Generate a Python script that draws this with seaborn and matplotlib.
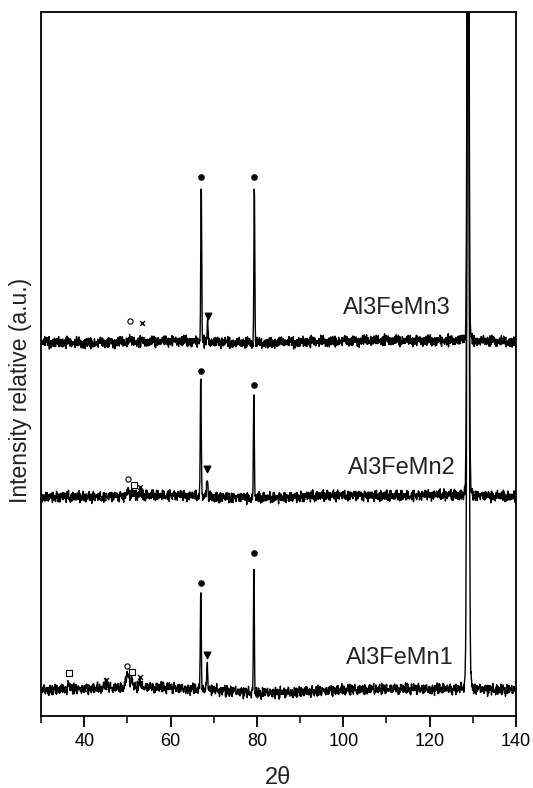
import numpy as np
import pandas as pd
import matplotlib
matplotlib.use("Agg")
import matplotlib.pyplot as plt
import seaborn as sns

# ---------------- data ----------------
samples = ["Al3FeMn1", "Al3FeMn2", "Al3FeMn3"]
baselines = [26, 219, 374]          # baseline level of each pattern (a.u.)

# reflections: position (2theta), height above baseline, width (sigma)
peaks_1_pos = [36.5, 45.0, 50.0, 51.0, 53.0, 67.0, 68.5, 79.3, 128.9, 128.9]
peaks_1_h   = [5,    4,    12,   8,    6,    100,  27,   130,  900,   14]
peaks_1_w   = [0.25, 0.25, 0.35, 0.25, 0.25, 0.11, 0.12, 0.10, 0.22,  0.55]

peaks_2_pos = [50.2, 51.5, 53.0, 67.0, 68.5, 79.3, 128.9, 128.9]
peaks_2_h   = [5,    4,    3,    119,  21,   104,  900,   12]
peaks_2_w   = [0.25, 0.25, 0.25, 0.11, 0.12, 0.10, 0.20,  0.5]

peaks_3_pos = [50.5, 67.1, 68.6, 79.4, 128.9, 128.9]
peaks_3_h   = [3,    157,  18,   159,  900,   10]
peaks_3_w   = [0.25, 0.11, 0.12, 0.10, 0.18,  0.45]

# background drift (slow), knots in 2theta and level offset
drift_x = [30, 40, 50, 60, 70, 80, 90, 100, 110, 120, 128, 140]
drift_1 = [0, 1, 3, 2, 0, -3, -2, 0, 1, 1, 1, 0]
drift_2 = [0, 0, 1, 2, 0, -1, 0, 2, 1, 2, 2, 0]
drift_3 = [0, -1, 0, 1, 0, -1, 0, 1, 2, 1, 2, 0]

# typed detector-noise patterns (a.u.)
noise_pattern_a = [1.5, -2.2, 3.1, -0.8, 0.4, -3.4, 2.6, -1.1, 0.9, 3.6,
                   -2.9, 0.2, -1.7, 2.1, -3.8, 1.2, -0.3, 2.9, -2.4, 0.7,
                   -1.3, 3.3, -0.6, -2.7, 1.8, 0.1, -3.1, 2.4, -0.9, 1.4,
                   -2.0, 3.8, -1.5, 0.5, -2.6, 1.0, 2.2, -3.6, 0.3, -0.4, 2.7]
noise_pattern_b = [0.8, -1.9, 0.3, 2.4, -0.7, -2.8, 1.6, 0.0, -1.2, 3.0,
                   -0.4, 1.1, -2.3, 0.6, 2.0, -1.6, -0.2, 1.9, -3.2, 0.9,
                   2.6, -1.0, -0.5]

# marker annotations: (2theta, level, symbol)
dot_x = [67.0, 79.3, 67.0, 79.3, 67.1, 79.4]
dot_y = [133, 163, 345, 331, 539, 539]
tri_x = [68.5, 68.5, 68.6]
tri_y = [61, 247, 400]
circ_x = [50.0, 50.2, 50.5]
circ_y = [50, 237, 395]
sq_x = [36.5, 51.0, 51.6]
sq_y = [43, 44, 231]
cross_x = [45.0, 53.0, 53.0, 53.3]
cross_y = [36, 39, 229, 393]

x_ticks = [40, 60, 80, 100, 120, 140]

# ---------------- build patterns ----------------
two_theta = np.round(np.arange(30, 140.001, 0.06), 3)
na = np.array(noise_pattern_a)
nb = np.array(noise_pattern_b)
peak_sets = [(peaks_1_pos, peaks_1_h, peaks_1_w),
             (peaks_2_pos, peaks_2_h, peaks_2_w),
             (peaks_3_pos, peaks_3_h, peaks_3_w)]
drifts = [drift_1, drift_2, drift_3]
rows = []
k = np.arange(len(two_theta))
for i, (name, base, (pp, ph, pw), dr) in enumerate(zip(samples, baselines, peak_sets, drifts)):
    y = np.full_like(two_theta, base, dtype=float)
    y += np.interp(two_theta, drift_x, dr)
    y += 1.05 * na[(k * (7 + 4 * i) + 13 * i) % len(na)]
    y += 0.9 * nb[(k * (5 + 2 * i) + 3 * i) % len(nb)]
    for p, h, w in zip(pp, ph, pw):
        y += h * np.exp(-0.5 * ((two_theta - p) / w) ** 2)
    rows.append(pd.DataFrame({"2theta": two_theta, "I": y, "sample": name}))
df = pd.concat(rows, ignore_index=True)

# ---------------- plot ----------------
sns.set_style("white")
plt.rcParams["font.family"] = ["Liberation Sans", "DejaVu Sans"]

fig = plt.figure(figsize=(5.33, 7.88), dpi=100)
ax = fig.add_axes([0.077, 0.0914, 0.891, 0.8934])

sns.lineplot(data=df, x="2theta", y="I", hue="sample", units="sample",
             estimator=None, palette=["black"] * 3, legend=False,
             linewidth=1.0, ax=ax, sort=False)

ax.scatter(dot_x, dot_y, s=14, marker="o", color="black", zorder=5)
ax.scatter(tri_x, tri_y, s=22, marker="v", color="black", zorder=5)
ax.scatter(circ_x, circ_y, s=14, marker="o", facecolors="white",
           edgecolors="black", linewidths=0.8, zorder=5)
ax.scatter(sq_x, sq_y, s=16, marker="s", facecolors="white",
           edgecolors="black", linewidths=0.8, zorder=5)
ax.scatter(cross_x, cross_y, s=12, marker="x", color="black",
           linewidths=1.0, zorder=5)

label_x = [125.6, 126.0, 124.9]
label_y = [58, 248, 408]
for name, lx, ly in zip(samples, label_x, label_y):
    ax.text(lx, ly, name, ha="right", va="center", fontsize=17, color="#222222")

ax.set_xlim(30, 140)
ax.set_ylim(0, 704)
ax.set_xticks(x_ticks)
ax.set_xticks([30, 50, 70, 90, 110, 130], minor=True)
ax.set_yticks([])
ax.tick_params(axis="x", which="major", direction="out", length=8, width=1.3,
               labelsize=13, colors="black", bottom=True, pad=4)
ax.tick_params(axis="x", which="minor", direction="out", length=5, width=1.3,
               bottom=True)
for s in ax.spines.values():
    s.set_visible(True)
    s.set_color("black")
    s.set_linewidth(1.3)
ax.set_xlabel("2θ", fontsize=17, color="#222222")
ax.xaxis.set_label_coords(0.5, -0.072)
ax.set_ylabel("Intensity relative (a.u.)", fontsize=16.5, color="#222222")
ax.yaxis.set_label_coords(-0.02, 0.463)

fig.savefig("out.png", dpi=100)
